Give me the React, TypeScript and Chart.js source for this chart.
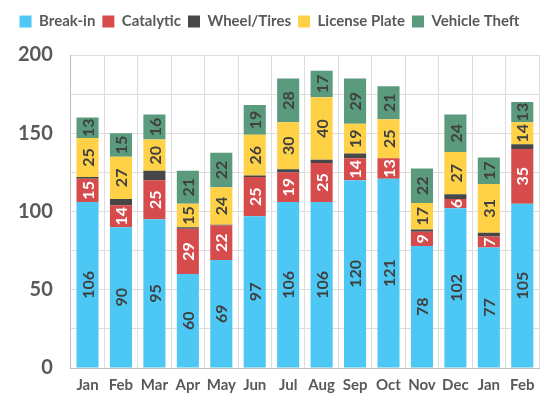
import React, { useEffect, useRef } from "react";
import { Chart, registerables } from "chart.js";

Chart.register(...registerables);

const months = ["Jan", "Feb", "Mar", "Apr", "May", "Jun", "Jul", "Aug", "Sep", "Oct", "Nov", "Dec", "Jan", "Feb"];
const breakIn = [106, 90, 95, 60, 69, 97, 106, 106, 120, 121, 78, 102, 77, 105];
const catalytic = [15, 14, 25, 29, 22, 25, 19, 25, 14, 13, 9, 6, 7, 35];
const wheelTires = [1, 4, 6, 1, 0.5, 1, 2, 2, 3, 0, 1.5, 3, 2.5, 3];
const licensePlate = [25, 27, 20, 15, 24, 26, 30, 40, 19, 25, 17, 27, 31, 14];
const vehicleTheft = [13, 15, 16, 21, 22, 19, 28, 17, 29, 21, 22, 24, 17, 13];
const yTicks = [0, 50, 100, 150, 200];

const FONT = "Lato, 'Open Sans', sans-serif";
const TEXT = "#595959";
const DARK = "#404040";

const labelColors: (string | null)[] = [DARK, "#ffffff", null, DARK, DARK];

const barLabels = {
  id: "barLabels",
  afterDatasetsDraw(chart: any) {
    const ctx = chart.ctx;
    chart.data.datasets.forEach((ds: any, i: number) => {
      const color = labelColors[i];
      if (!color) return;
      const meta = chart.getDatasetMeta(i);
      meta.data.forEach((bar: any, j: number) => {
        const v = ds.data[j];
        const p = bar.getProps(["x", "y", "base"], true);
        const cy = (p.y + p.base) / 2;
        ctx.save();
        ctx.translate(p.x, cy);
        ctx.rotate(-Math.PI / 2);
        ctx.textAlign = "center";
        ctx.textBaseline = "middle";
        ctx.font = `bold 16px ${FONT}`;
        ctx.fillStyle = color;
        ctx.fillText(String(v), 0, 1);
        ctx.restore();
      });
    });
  },
};

const legendMargin = {
  id: "legendMargin",
  beforeInit(chart: any) {
    const orig = chart.legend.fit;
    chart.legend.fit = function () {
      orig.bind(chart.legend)();
      this.height += 16;
    };
  },
};

export default function App() {
  const ref = useRef<HTMLCanvasElement>(null);
  useEffect(() => {
    const mk = (label: string, data: number[], color: string) => ({
      label,
      data,
      backgroundColor: color,
      borderWidth: 0,
      categoryPercentage: 1,
      barPercentage: 0.66,
    });
    const chart = new Chart(ref.current!, {
      type: "bar",
      data: {
        labels: months,
        datasets: [
          mk("Break-in", breakIn, "#4DC7F3"),
          mk("Catalytic", catalytic, "#D64B4B"),
          mk("Wheel/Tires", wheelTires, "#474747"),
          mk("License Plate", licensePlate, "#FFD147"),
          mk("Vehicle Theft", vehicleTheft, "#5A9A7D"),
        ],
      },
      options: {
        animation: false,
        responsive: false,
        layout: { padding: { left: 0, right: 12, top: 7, bottom: 0 } },
        plugins: {
          tooltip: { enabled: false },
          legend: {
            position: "top",
            labels: {
              boxWidth: 12,
              boxHeight: 12,
              padding: 7,
              color: TEXT,
              font: { family: FONT, size: 15, weight: "bold" },
            },
          },
        },
        scales: {
          x: {
            stacked: true,
            grid: { color: "#dddddd", lineWidth: 1, drawTicks: false },
            border: { color: "#bfbfbf" },
            ticks: { color: TEXT, padding: 8, maxRotation: 0, font: { family: FONT, size: 15, weight: "bold" } },
          },
          y: {
            stacked: true,
            min: 0,
            max: 200,
            grid: { color: "#dddddd", lineWidth: 1, drawTicks: false },
            border: { color: "#bfbfbf" },
            ticks: {
              stepSize: 25,
              padding: 18,
              color: TEXT,
              font: { family: FONT, size: 20, weight: "bold" },
              callback: (v: any) => (yTicks.includes(Number(v)) ? String(v) : ""),
            },
          },
        },
      },
      plugins: [legendMargin, barLabels],
    });
    return () => chart.destroy();
  }, []);
  return (
    <div style={{ position: "fixed", left: 0, top: 0, width: 551, height: 402, background: "#fff" }}>
      <canvas ref={ref} width={551} height={402} style={{ width: 551, height: 402 }} />
    </div>
  );
}
